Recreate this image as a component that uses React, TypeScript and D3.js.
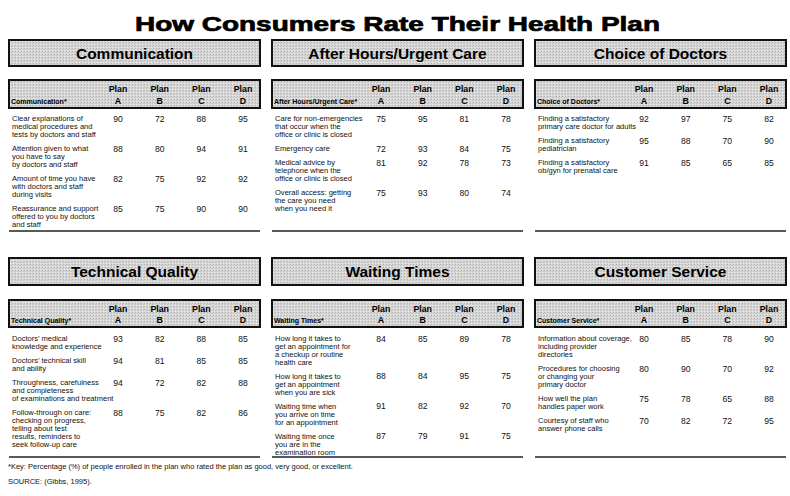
import React, { useEffect } from "react";
import * as d3 from "d3";

const plans = ["A", "B", "C", "D"];

const communicationLabels = [
  ["Clear explanations of", "medical procedures and", "tests by doctors and staff"],
  ["Attention given to what", "you have to say", "by doctors and staff"],
  ["Amount of time you have", "with doctors and staff", "during visits"],
  ["Reassurance and support", "offered to you by doctors", "and staff"],
];
const communicationValues = [
  [90, 72, 88, 95],
  [88, 80, 94, 91],
  [82, 75, 92, 92],
  [85, 75, 90, 90],
];

const afterHoursLabels = [
  ["Care for non-emergencies", "that occur when the", "office or clinic is closed"],
  ["Emergency care"],
  ["Medical advice by", "telephone when the", "office or clinic is closed"],
  ["Overall access: getting", "the care you need", "when you need it"],
];
const afterHoursValues = [
  [75, 95, 81, 78],
  [72, 93, 84, 75],
  [81, 92, 78, 73],
  [75, 93, 80, 74],
];

const choiceLabels = [
  ["Finding a satisfactory", "primary care doctor for adults"],
  ["Finding a satisfactory", "pediatrician"],
  ["Finding a satisfactory", "ob/gyn for prenatal care"],
];
const choiceValues = [
  [92, 97, 75, 82],
  [95, 88, 70, 90],
  [91, 85, 65, 85],
];

const technicalLabels = [
  ["Doctors\u2019 medical", "knowledge and experience"],
  ["Doctors\u2019 technical skill", "and ability"],
  ["Throughness, carefulness", "and completeness", "of examinations and treatment"],
  ["Follow-through on care:", "checking on progress,", "telling about test", "results, reminders to", "seek follow-up care"],
];
const technicalValues = [
  [93, 82, 88, 85],
  [94, 81, 85, 85],
  [94, 72, 82, 88],
  [88, 75, 82, 86],
];

const waitingLabels = [
  ["How long it takes to", "get an appointment for", "a checkup or routine", "health care"],
  ["How long it takes to", "get an appointment", "when you are sick"],
  ["Waiting time when", "you arrive on time", "for an appointment"],
  ["Waiting time once", "you are in the", "examination room"],
];
const waitingValues = [
  [84, 85, 89, 78],
  [88, 84, 95, 75],
  [91, 82, 92, 70],
  [87, 79, 91, 75],
];

const serviceLabels = [
  ["Information about coverage,", "including provider", "directories"],
  ["Procedures for choosing", "or changing your", "primary doctor"],
  ["How well the plan", "handles paper work"],
  ["Courtesy of staff who", "answer phone calls"],
];
const serviceValues = [
  [80, 85, 78, 90],
  [80, 90, 70, 92],
  [75, 78, 65, 88],
  [70, 82, 72, 95],
];

const sectionTitles = [
  "Communication",
  "After Hours/Urgent Care",
  "Choice of Doctors",
  "Technical Quality",
  "Waiting Times",
  "Customer Service",
];

const title = "How Consumers Rate Their Health Plan";
const footnote = "*Key: Percentage (%) of people enrolled in the plan who rated the plan as good, very good, or excellent.";
const source = "SOURCE: (Gibbs, 1995).";

const panels = [
  { labels: communicationLabels, values: communicationValues },
  { labels: afterHoursLabels, values: afterHoursValues },
  { labels: choiceLabels, values: choiceValues },
  { labels: technicalLabels, values: technicalValues },
  { labels: waitingLabels, values: waitingValues },
  { labels: serviceLabels, values: serviceValues },
];

const W = 790;
const H = 496;
const FONT = "'Liberation Sans', Arial, Helvetica, sans-serif";

const rowLayouts = [
  { sectionTop: 40, sectionH: 26, headerTop: 80, headerH: 28, dataStart: 121, ruleY: 231 },
  { sectionTop: 258, sectionH: 27, headerTop: 300, headerH: 27, dataStart: 341, ruleY: 457 },
];

const LABEL_FS = 7;
const LINE_H = 7.9;
const ROW_GAP = 6.3;

export default function App() {
  useEffect(() => {
    document.body.style.margin = "0";
  }, []);

  const panelX = d3
    .scaleBand<number>()
    .domain([0, 1, 2])
    .range([9, 786])
    .paddingInner(12 / 263);
  const bw = panelX.bandwidth();
  const planX = d3.scalePoint<string>().domain(plans).range([109, 234]);

  return (
    <svg width={W} height={H} style={{ display: "block", background: "#fff" }} fontFamily={FONT}>
      <defs>
        <pattern id="half" width="3" height="3" patternUnits="userSpaceOnUse">
          <rect width="3" height="3" fill="#d6d6d6" />
          <rect x="0" y="0" width="1" height="1" fill="#b0b0b0" />
          <rect x="2" y="1" width="1" height="1" fill="#c2c2c2" />
          <rect x="1" y="2" width="1" height="1" fill="#ececec" />
        </pattern>
      </defs>
      <rect width={W} height={H} fill="#fff" />
      <text
        x={397.5}
        y={31}
        textAnchor="middle"
        fontSize={20.5}
        fontWeight={900}
        textLength={525}
        lengthAdjust="spacingAndGlyphs"
        stroke="#000"
        strokeWidth={0.7}
        fill="#000"
      >
        {title}
      </text>
      {panels.map((p, i) => {
        const col = i % 3;
        const row = Math.floor(i / 3);
        const L = rowLayouts[row];
        const x0 = panelX(col) as number;
        let y = L.dataStart;
        const rowYs = p.labels.map((lines) => {
          const yy = y;
          y += lines.length * LINE_H + ROW_GAP;
          return yy;
        });
        return (
          <g key={i} transform={`translate(${x0},0)`}>
            <rect
              x={0}
              y={L.sectionTop}
              width={bw}
              height={L.sectionH}
              fill="url(#half)"
              stroke="#111"
              strokeWidth={2}
            />
            <text
              x={bw / 2}
              y={L.sectionTop + L.sectionH / 2 + 5.6}
              textAnchor="middle"
              fontSize={15.5}
              fontWeight="bold"
              fill="#000"
            >
              {sectionTitles[i]}
            </text>
            <rect
              x={0}
              y={L.headerTop}
              width={bw}
              height={L.headerH}
              fill="url(#half)"
              stroke="#111"
              strokeWidth={2}
            />
            <text x={2} y={L.headerTop + L.headerH - 4.5} fontSize={7} fontWeight="bold" fill="#000">
              {sectionTitles[i] + "*"}
            </text>
            {plans.map((pl) => (
              <text
                key={pl}
                x={planX(pl)}
                y={L.headerTop + 12}
                textAnchor="middle"
                fontSize={8.8}
                fontWeight="bold"
                fill="#000"
              >
                <tspan x={planX(pl)}>Plan</tspan>
                <tspan x={planX(pl)} y={L.headerTop + L.headerH - 4.5}>
                  {pl}
                </tspan>
              </text>
            ))}
            {p.labels.map((lines, r) => (
              <g key={r}>
                <text
                  transform={`translate(3,${rowYs[r]}) scale(1.08,1)`}
                  x={0}
                  y={0}
                  fontSize={LABEL_FS}
                  fill="#111"
                >
                  {lines.map((ln, k) => (
                    <tspan key={k} x={0} y={k * LINE_H}>
                      {ln}
                    </tspan>
                  ))}
                </text>
                {p.values[r].map((v, c) => (
                  <text
                    key={c}
                    x={planX(plans[c])}
                    y={rowYs[r] + 0.5}
                    textAnchor="middle"
                    fontSize={8.6}
                    fill="#111"
                  >
                    {v}
                  </text>
                ))}
              </g>
            ))}
            <line x1={0} x2={bw} y1={L.ruleY} y2={L.ruleY} stroke="#222" strokeWidth={1.6} />
          </g>
        );
      })}
      <text x={8} y={469} fontSize={7.5} fill="#111">
        {footnote}
      </text>
      <text x={8} y={484} fontSize={7.5} fill="#111">
        {source}
      </text>
    </svg>
  );
}
